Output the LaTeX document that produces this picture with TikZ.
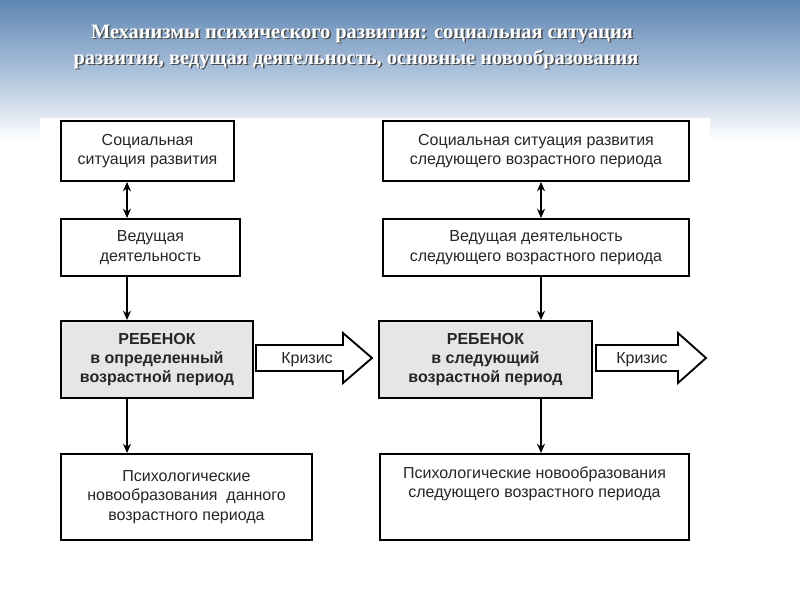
\documentclass[tikz,border=0pt]{standalone}
\usepackage{fontspec}
\setmainfont{Liberation Sans}
\newfontfamily\titlefont{Liberation Serif}
\usetikzlibrary{arrows.meta}
\definecolor{skyA}{HTML}{5F86B3}
\definecolor{skyB}{HTML}{A9C0DA}
\definecolor{boxgray}{HTML}{E6E6E6}
\begin{document}
\begin{tikzpicture}[x=0.75pt,y=-0.75pt,
  bx/.style={draw=black,line width=1.4pt,fill=white,align=center,font=\fontsize{12}{14.5}\selectfont,text=black!85,inner sep=0pt},
  gbx/.style={bx,fill=boxgray,font=\fontsize{12}{14.5}\selectfont\bfseries},
  crisisarrow/.style={draw=black,line width=1.4pt,fill=white,line join=miter},
  crisistext/.style={font=\fontsize{12}{14}\selectfont,text=black!85,inner sep=0pt},
  conn/.style={line width=1.4pt,-{Stealth[length=7pt,width=6pt]}},
  dconn/.style={line width=1.4pt,{Stealth[length=7pt,width=6pt]}-{Stealth[length=7pt,width=6pt]}},
  ttl/.style={font=\titlefont\bfseries\fontsize{15.3}{18}\selectfont}]
\useasboundingbox (0,0) rectangle (800,600);
\fill[white] (0,0) rectangle (800,600);
\shade[top color=skyA,bottom color=white,middle color=skyB] (0,0) rectangle (800,140);
\fill[white] (40,118) rectangle (710,600);
% title
\foreach \dx/\c in {1.5/black!70,0/white}{
 \node[ttl,text=\c] (t1\dx) at (362+\dx,34+\dx) {Механизмы психического развития: социальная ситуация};
 \node[ttl,text=\c] (t2\dx) at (356+\dx,59+\dx) {развития, ведущая деятельность, основные новообразования};
}
% left
\node[bx,minimum width=173*0.75pt,minimum height=60*0.75pt] (l1) at (147.5,151) {Социальная\\ситуация развития};
\node[bx,minimum width=179*0.75pt,minimum height=57*0.75pt] (l2) at (150.5,247.5) {Ведущая\\деятельность};
\node[gbx,minimum width=192*0.75pt,minimum height=77*0.75pt] (l3) at (157,359.5) {РЕБЕНОК\\в определенный\\возрастной период};
\node[bx,minimum width=251*0.75pt,minimum height=86*0.75pt] (l4) at (186.5,497) {Психологические\\новообразования\ \ данного\\возрастного периода};
\draw[crisisarrow] (256,345) -- (343,345) -- (343,333) -- (372,358) -- (343,383) -- (343,371) -- (256,371) -- cycle;
\node[crisistext] (k1) at (307,360) {Кризис};
% right
\node[bx,minimum width=306*0.75pt,minimum height=60*0.75pt] (r1) at (536,151) {Социальная ситуация развития\\следующего возрастного периода};
\node[bx,minimum width=306*0.75pt,minimum height=57*0.75pt] (r2) at (536,247.5) {Ведущая деятельность\\следующего возрастного периода};
\node[gbx,minimum width=213*0.75pt,minimum height=77*0.75pt] (r3) at (485.5,359.5) {РЕБЕНОК\\в следующий\\возрастной период};
\node[bx,minimum width=309*0.75pt,minimum height=86*0.75pt,text depth=22pt] (r4) at (534.5,497) {Психологические новообразования\\следующего возрастного периода};
\draw[crisisarrow] (596,345) -- (678,345) -- (678,333) -- (706,358) -- (678,383) -- (678,371) -- (596,371) -- cycle;
\node[crisistext] (k2) at (642,360) {Кризис};
% connectors
\draw[dconn] (l1.south -| 127,0) -- (l2.north -| 127,0);
\draw[conn] (l2.south -| 127,0) -- (l3.north -| 127,0);
\draw[conn] (l3.south -| 127,0) -- (l4.north -| 127,0);
\draw[dconn] (r1.south -| 541,0) -- (r2.north -| 541,0);
\draw[conn] (r2.south -| 541,0) -- (r3.north -| 541,0);
\draw[conn] (r3.south -| 541,0) -- (r4.north -| 541,0);
\end{tikzpicture}
\end{document}
